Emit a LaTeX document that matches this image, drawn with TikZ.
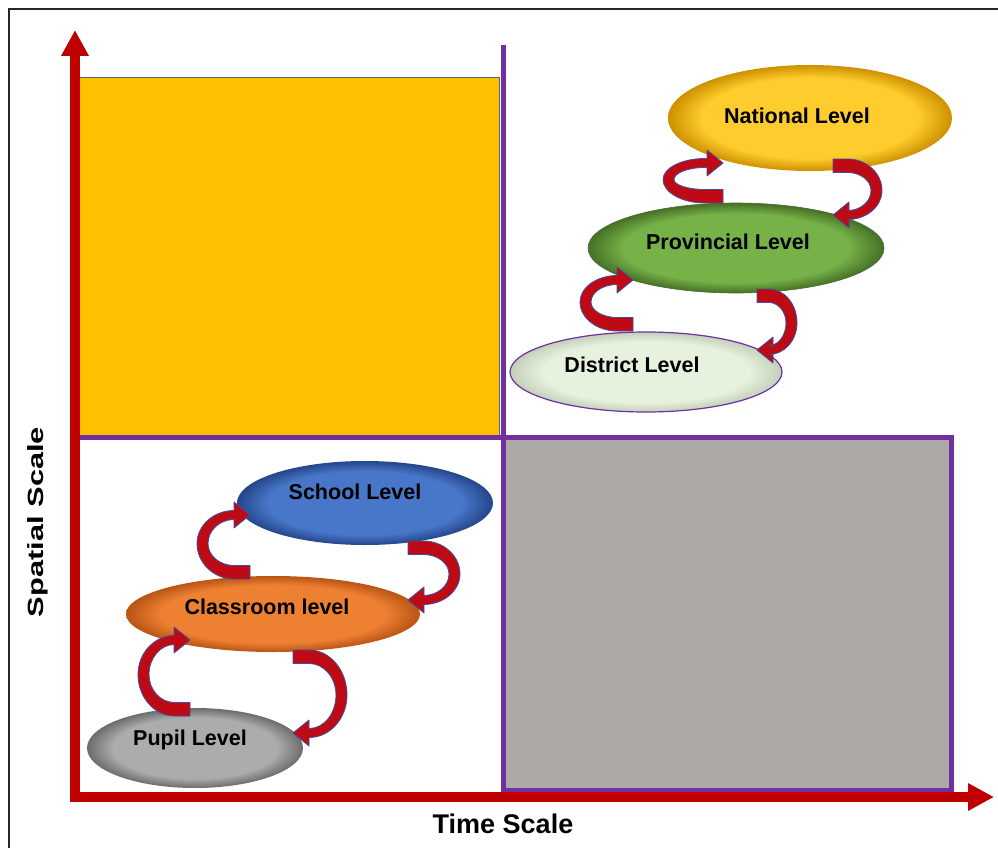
\documentclass[tikz,border=0pt]{standalone}
\usepackage{fontspec}
\setmainfont{Liberation Sans}
\usetikzlibrary{arrows.meta,shapes.geometric}
\makeatletter
\pgfdeclareradialshading[tikz@radial@inner,tikz@radial@outer]{bevel}{\pgfpoint{0bp}{0bp}}{color(0bp)=(tikz@radial@inner);color(19bp)=(tikz@radial@inner);color(25bp)=(tikz@radial@outer);color(50bp)=(tikz@radial@outer)}
\makeatother
\definecolor{axred}{RGB}{192,0,0}
\definecolor{purp}{RGB}{112,48,160}
\definecolor{gold}{RGB}{255,192,0}
\definecolor{greyfill}{RGB}{173,169,166}
\definecolor{ribred}{RGB}{190,10,20}
\definecolor{ribblue}{RGB}{60,80,160}
\tikzset{
  lvl/.style={ellipse, inner sep=0pt, shade, shading=bevel},
  lvltext/.style={font=\bfseries\fontsize{21.5}{24}\selectfont, text=black, inner sep=0pt},
  ribbonstyle/.style={fill=ribred, draw=ribblue, line width=0.8pt, line join=round},
  axisline/.style={draw=axred, line width=9.5pt, -{Triangle[width=26pt,length=26pt]}},
  purpline/.style={draw=purp, line width=5pt}
}
\newcommand\ribbon[5]{%
\begin{scope}[shift={(#1,#2)},xscale=#5,yscale=#5]
\pgfmathsetmacro\rW{#3}\pgfmathsetmacro\rH{#4}
\pgfmathsetmacro\ra{-0.3*\rW}
\path[ribbonstyle] (0,7) -- (\ra,7)
 .. controls ({\ra-0.55*(\rW+\ra)},7) and ({-\rW},{-\rH/2+0.55*(7+\rH/2)}) .. ({-\rW},{-\rH/2})
 .. controls ({-\rW},{-\rH/2-0.55*(\rH/2+4.5)}) and ({\ra-0.55*(\rW+\ra)},{-\rH-4.5}) .. (\ra,{-\rH-4.5})
 -- (-16,{-\rH-4.5}) -- (-16,{-\rH-13}) -- (0,{-\rH}) -- (-16,{-\rH+13}) -- (-16,{-\rH+4.5})
 -- (\ra,{-\rH+4.5})
 .. controls ({\ra-0.55*(\ra+\rW-11)},{-\rH+4.5}) and ({-\rW+11},{-\rH/2-0.55*(\rH/2-4.5)}) .. ({-\rW+11},{-\rH/2})
 .. controls ({-\rW+11},{-\rH/2+0.55*(\rH/2-6.5)}) and ({\ra-0.55*(\ra+\rW-11)},-6.5) .. (\ra,-6.5)
 -- (0,-6.5) -- cycle;
\end{scope}}
\begin{document}
\begin{tikzpicture}[x=1pt,y=-1pt]
\useasboundingbox (0,0) rectangle (998,848);
\fill[white] (0,0) rectangle (998,848);
% frame
\draw[black!85, line width=1.6pt] (9,850) -- (9,9) -- (1000,9);
% quadrants
\draw[fill=gold, draw={rgb,255:red,80;green,100;blue,115}, line width=1pt] (79,78) rectangle (499,435);
\draw[fill=greyfill, draw=purp, line width=5pt] (503,437) rectangle (951,790);
\coordinate (vtop) at (503,45);
\coordinate (vbot) at (503,790);
\coordinate (hl) at (77,437);
\coordinate (hr) at (951,437);
\draw[purpline] (vtop) -- (vbot);
\draw[purpline] (hl) -- (hr);
% axes
\coordinate (o1) at (75,802);
\coordinate (ytip) at (75,30);
\coordinate (o2) at (70.5,797);
\coordinate (xtip) at (994,797);
\draw[axisline] (o1) -- (ytip);
\draw[axisline] (o2) -- (xtip);
\node[font=\bfseries\fontsize{27}{30}\selectfont, inner sep=0pt] (tlab) at (503,824) {Time Scale};
\node[font=\bfseries\fontsize{22}{24}\selectfont, rotate=90, xscale=1.4, inner sep=0pt] (slab) at (38,522) {Spatial Scale};
% ellipses
\node[lvl, minimum width=284pt, minimum height=106pt, inner color={rgb,255:red,255;green,204;blue,45}, outer color={rgb,255:red,205;green,145;blue,0}, shading=bevel] (nat) at (810,118) {};
\node[lvl, minimum width=296pt, minimum height=90pt, inner color={rgb,255:red,118;green,178;blue,72}, outer color={rgb,255:red,70;green,112;blue,38}, shading=bevel, draw={rgb,255:red,70;green,110;blue,40}, line width=0.6pt] (prov) at (736,248) {};
\node[lvl, minimum width=272pt, minimum height=80pt, inner color={rgb,255:red,230;green,241;blue,222}, outer color={rgb,255:red,195;green,208;blue,185}, shading=bevel, draw=purp, line width=1.2pt] (dist) at (646,372) {};
\node[lvl, minimum width=256pt, minimum height=84pt, inner color={rgb,255:red,72;green,118;blue,200}, outer color={rgb,255:red,36;green,70;blue,138}, shading=bevel] (sch) at (365,503) {};
\node[lvl, minimum width=294pt, minimum height=76pt, inner color={rgb,255:red,238;green,128;blue,50}, outer color={rgb,255:red,185;green,84;blue,20}, shading=bevel] (cls) at (273,614) {};
\node[lvl, minimum width=216pt, minimum height=80pt, inner color={rgb,255:red,172;green,172;blue,172}, outer color={rgb,255:red,108;green,108;blue,108}, shading=bevel] (pup) at (195,748) {};
% ribbons
\ribbon{633}{324}{53}{44}{1}
\ribbon{723}{196}{60}{33}{1}
\ribbon{190}{709}{52}{69}{1}
\ribbon{250}{572}{53}{57}{1}
\ribbon{757}{296}{40}{54}{-1}
\ribbon{833}{166}{49}{49}{-1}
\ribbon{293}{657}{54}{76}{-1}
\ribbon{408}{548}{52}{52}{-1}
% labels
\node[lvltext] (tnat) at (797,116) {National Level};
\node[lvltext] (tprov) at (728,242) {Provincial Level};
\node[lvltext] (tdist) at (632,365) {District Level};
\node[lvltext] (tsch) at (355,492) {School Level};
\node[lvltext] (tcls) at (267,607) {Classroom level};
\node[lvltext] (tpup) at (190,740) {Pupil Level};
\end{tikzpicture}
\end{document}
